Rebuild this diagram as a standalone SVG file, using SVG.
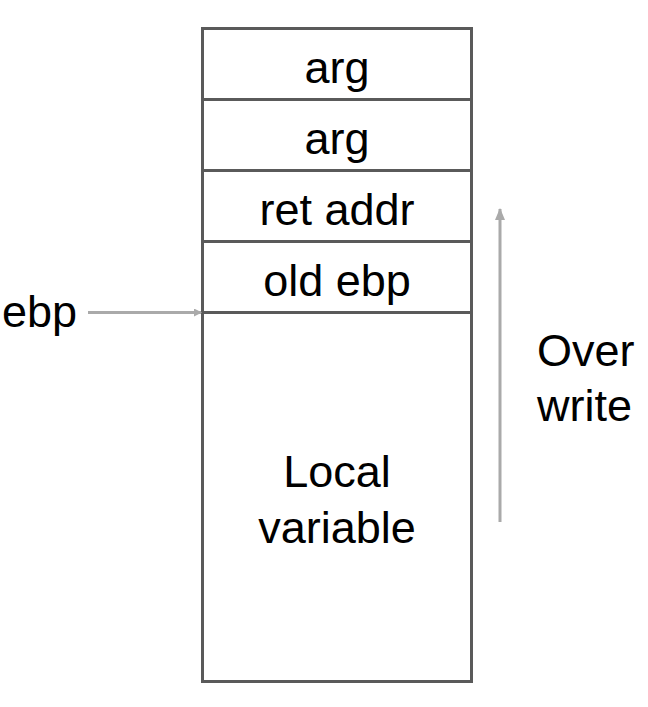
<svg xmlns="http://www.w3.org/2000/svg" width="648" height="707" viewBox="0 0 648 707">
<style>
.box{fill:#fff;stroke:#5a5a5a;stroke-width:3}
.t{font-family:"Liberation Sans",Arial,sans-serif;font-size:45px;fill:#000;text-anchor:middle}
.l{font-family:"Liberation Sans",Arial,sans-serif;font-size:45px;fill:#000}
.c{stroke:#aaaaaa;stroke-width:3;fill:none}
</style>
<defs>
<marker id="ah" markerWidth="8" markerHeight="8" refX="7" refY="4" orient="auto" markerUnits="userSpaceOnUse" viewBox="0 0 8 8">
<path d="M0,0 L8,4 L0,8 Z" fill="#aaaaaa"/>
</marker>
<marker id="ah2" markerWidth="12" markerHeight="12" refX="11" refY="6" orient="auto" markerUnits="userSpaceOnUse" viewBox="0 0 12 12">
<path d="M0,1 L12,6 L0,11 Z" fill="#aaaaaa"/>
</marker>
</defs>
<g id="stack">
<g id="arg1"><rect class="box" x="202.5" y="28.5" width="269" height="71"/><text class="t" x="337" y="83">arg</text></g>
<g id="arg2"><rect class="box" x="202.5" y="99.5" width="269" height="71"/><text class="t" x="337" y="154">arg</text></g>
<g id="retaddr"><rect class="box" x="202.5" y="170.5" width="269" height="71"/><text class="t" x="337" y="225">ret addr</text></g>
<g id="oldebp"><rect class="box" x="202.5" y="241.5" width="269" height="71"/><text class="t" x="337" y="296">old ebp</text></g>
<g id="local"><rect class="box" x="202.5" y="312.5" width="269" height="369"/><text class="t" x="337" y="487">Local</text><text class="t" x="337" y="543">variable</text></g>
</g>
<g id="ebp"><text class="l" x="2" y="327">ebp</text></g>
<g id="overwrite"><text class="l" x="537" y="366">Over</text><text class="l" x="537" y="421">write</text></g>
<g id="connectors">
<line class="c" x1="88" y1="312.5" x2="201" y2="312.5" marker-end="url(#ah)"/>
<line class="c" x1="500" y1="522" x2="500" y2="209" marker-end="url(#ah2)"/>
</g>
</svg>
